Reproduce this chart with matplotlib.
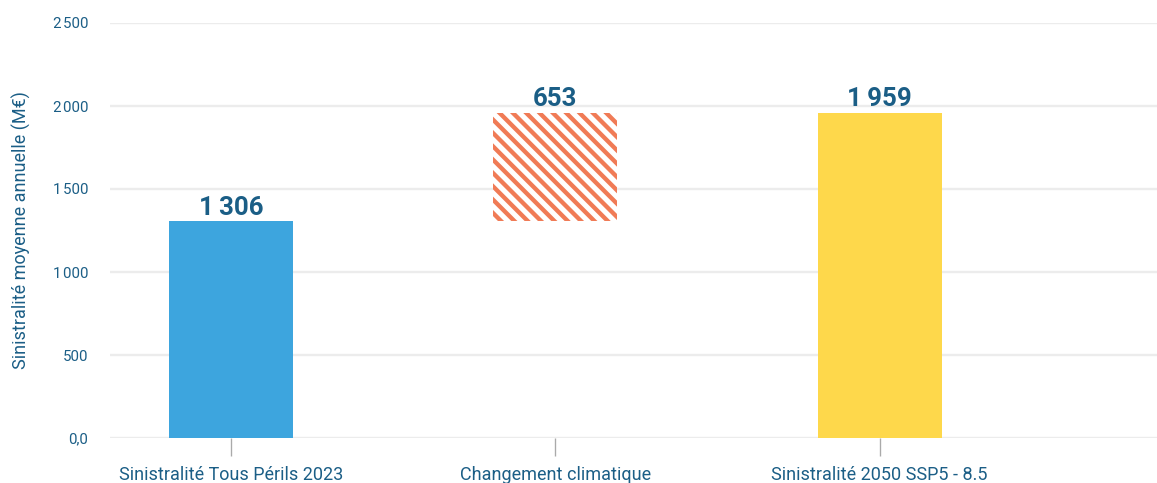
import numpy as np
import matplotlib
matplotlib.use("Agg")
from matplotlib import pyplot as plt

categories = ["Sinistralité Tous Périls 2023", "Changement climatique", "Sinistralité 2050 SSP5 - 8.5"]
values = [1306, 653, 1959]
bottoms = [0, 1306, 0]
value_labels = ["1\u2009306", "653", "1\u2009959"]
yticks = [0, 500, 1000, 1500, 2000, 2500]
ytick_labels = ["0,0", "500", "1\u200a000", "1\u200a500", "2\u200a000", "2\u200a500"]

text_color = "#1b5e86"
plt.rcParams["font.family"] = ["Roboto", "DejaVu Sans"]
plt.rcParams["hatch.linewidth"] = 2.6

fig = plt.figure(figsize=(1157 / 120, 483 / 120), dpi=120)
ax = fig.add_axes([110 / 1157, 45 / 483, 1047 / 1157, 415 / 483])

x = np.arange(len(categories))
w = 0.382
ax.bar(x[0], values[0], w, bottom=bottoms[0], color="#3da5de", zorder=3)
ax.bar(x[1], values[1], w, bottom=bottoms[1], facecolor="white", edgecolor="#f07b56",
       linewidth=0, hatch="\\\\\\", zorder=3)
ax.bar(x[2], values[2], w, bottom=bottoms[2], color="#fed84b", zorder=3)

# étiquettes de valeur au-dessus des barres
for xi, v, b, lab in zip(x, values, bottoms, value_labels):
    ax.annotate(lab, (xi, v + b), xytext=(0, 1), textcoords="offset points",
                ha="center", va="bottom", fontsize=15.5, fontweight="bold", color=text_color)

ax.set_xlim(-0.373, 2.855)
ax.set_ylim(0, 2500)
ax.set_yticks(yticks)
ax.set_yticklabels(ytick_labels)
ax.set_xticks(x)
ax.set_xticklabels(categories)

ax.grid(axis="y", color="#ececec", linewidth=1.4, zorder=0)
ax.set_axisbelow(True)
for s in ax.spines.values():
    s.set_visible(False)

ax.tick_params(axis="y", length=0, pad=13, labelsize=9, labelcolor=text_color)
ax.tick_params(axis="x", length=10.8, width=0.8, color="#aaaaaa", pad=6,
               labelsize=10.8, labelcolor=text_color)
ax.set_ylabel("Sinistralité moyenne annuelle (M€)", fontsize=10.8, color=text_color, labelpad=13)

fig.savefig("out.png", dpi=120)
